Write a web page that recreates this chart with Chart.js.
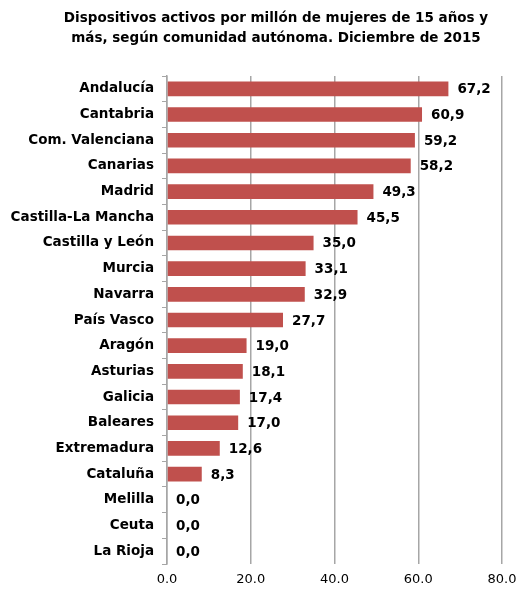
<!DOCTYPE html>
<html>
<head>
<meta charset="utf-8">
<script src="https://cdn.jsdelivr.net/npm/chart.js@4"></script>
<style>
  html, body { margin: 0; padding: 0; background: #fff; }
  #wrap { width: 519px; height: 590px; }
</style>
</head>
<body>
<div id="wrap"><canvas id="myChart" width="519" height="590"></canvas></div>
<script>
const comunidades = ["Andalucía", "Cantabria", "Com. Valenciana", "Canarias", "Madrid",
    "Castilla-La Mancha", "Castilla y León", "Murcia", "Navarra", "País Vasco", "Aragón",
    "Asturias", "Galicia", "Baleares", "Extremadura", "Cataluña", "Melilla", "Ceuta", "La Rioja"];
const dispositivos = [67.2, 60.9, 59.2, 58.2, 49.3, 45.5, 35.0, 33.1, 32.9, 27.7, 19.0,
    18.1, 17.4, 17.0, 12.6, 8.3, 0.0, 0.0, 0.0];
const tituloLineas = ["Dispositivos activos por millón de mujeres de 15 años y",
    "más, según comunidad autónoma. Diciembre de 2015"];

const fuente = "'DejaVu Sans', sans-serif";

// título dibujado a mano: en el original está desplazado a la derecha
const tituloDesplazado = {
    id: 'tituloDesplazado',
    afterDraw(chart) {
        const ctx = chart.ctx;
        ctx.save();
        ctx.font = "bold 13.5px " + fuente;
        ctx.fillStyle = "#000";
        ctx.textAlign = "center";
        ctx.textBaseline = "middle";
        tituloLineas.forEach((linea, i) => {
            ctx.fillText(linea, 276, 18 + i * 20);
        });
        ctx.restore();
    }
};

// etiquetas de valor al final de cada barra
const etiquetasBarras = {
    id: 'etiquetasBarras',
    afterDatasetsDraw(chart) {
        const ctx = chart.ctx;
        const meta = chart.getDatasetMeta(0);
        ctx.save();
        ctx.font = "bold 13.5px " + fuente;
        ctx.fillStyle = "#000";
        ctx.textAlign = "left";
        ctx.textBaseline = "middle";
        meta.data.forEach((bar, i) => {
            const txt = dispositivos[i].toFixed(1).replace(".", ",");
            ctx.fillText(txt, bar.x + 9, bar.y + 1);
        });
        ctx.restore();
    }
};

const ctx = document.getElementById('myChart').getContext('2d');
const chart = new Chart(ctx, {
    type: 'bar',
    data: {
        labels: comunidades,
        datasets: [{
            data: dispositivos,
            backgroundColor: '#C0504D',
            borderWidth: 0,
            categoryPercentage: 1,
            barPercentage: 0.57
        }]
    },
    options: {
        indexAxis: 'y',
        responsive: false,
        animation: false,
        layout: { padding: { left: 0, right: 0, top: 76, bottom: 0 } },
        plugins: {
            legend: { display: false },
            tooltip: { enabled: false },
            title: { display: false }
        },
        scales: {
            x: {
                min: 0,
                max: 80,
                afterFit(scale) {
                    scale.height = 26;
                    scale.paddingRight = 17;
                },
                ticks: {
                    stepSize: 20,
                    color: '#000',
                    padding: 8,
                    font: { family: fuente, size: 13 },
                    callback: v => v.toFixed(1)
                },
                grid: { color: '#a6a6a6', lineWidth: 1.5, drawTicks: false },
                border: { display: false }
            },
            y: {
                afterFit(scale) { scale.width = 167; },
                ticks: {
                    color: '#000',
                    padding: 8,
                    font: { family: fuente, size: 13.5, weight: 'bold' }
                },
                grid: { offset: true, drawOnChartArea: false, drawTicks: true, tickLength: 5, color: '#a6a6a6' },
                border: { display: true, color: '#a6a6a6', width: 1.5 }
            }
        }
    },
    plugins: [etiquetasBarras, tituloDesplazado]
});
</script>
</body>
</html>
